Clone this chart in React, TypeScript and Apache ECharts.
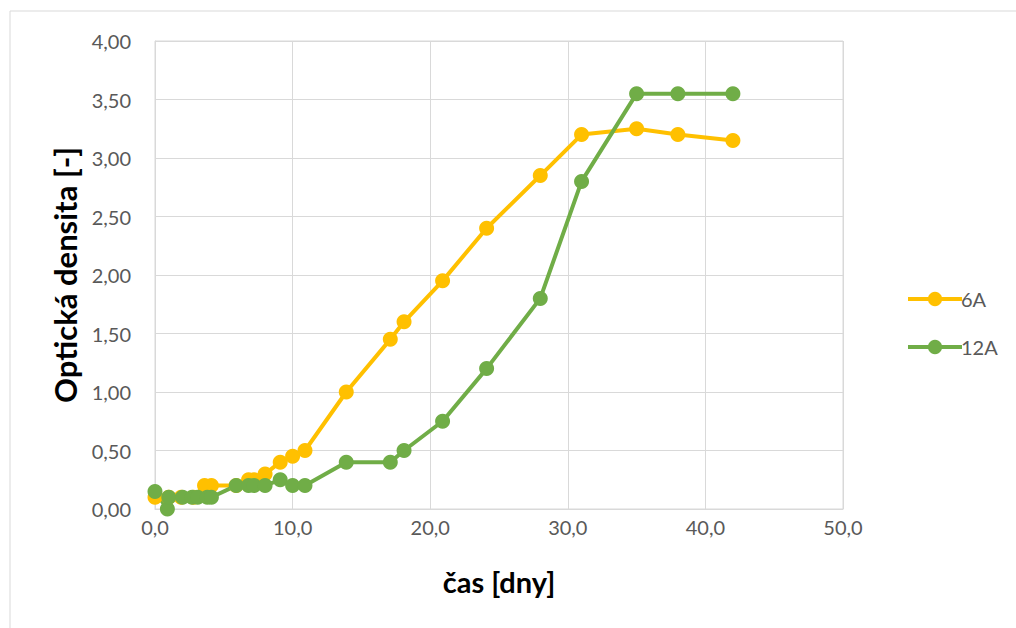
import React, { useEffect, useRef } from "react";
import * as echarts from "echarts";

// Days of measurement and optical density for sample 6A
const days6A = [0, 1.0, 1.9, 2.8, 3.6, 4.1, 5.9, 6.8, 7.2, 8.0, 9.1, 10.0, 10.9, 13.9, 17.1, 18.1, 20.9, 24.1, 28.0, 31.0, 35.0, 38.0, 42.0];
const od6A = [0.1, 0.1, 0.1, 0.1, 0.2, 0.2, 0.2, 0.25, 0.25, 0.3, 0.4, 0.45, 0.5, 1.0, 1.45, 1.6, 1.95, 2.4, 2.85, 3.2, 3.25, 3.2, 3.15];

// Days of measurement and optical density for sample 12A
const days12A = [0, 0.9, 1.0, 2.0, 2.7, 3.1, 3.8, 4.1, 5.9, 6.8, 7.2, 8.0, 9.1, 10.0, 10.9, 13.9, 17.1, 18.1, 20.9, 24.1, 28.0, 31.0, 35.0, 38.0, 42.0];
const od12A = [0.15, 0.0, 0.1, 0.1, 0.1, 0.1, 0.1, 0.1, 0.2, 0.2, 0.2, 0.2, 0.25, 0.2, 0.2, 0.4, 0.4, 0.5, 0.75, 1.2, 1.8, 2.8, 3.55, 3.55, 3.55];

const seriesNames = ["6A", "12A"];
const xTitle = "čas [dny]";
const yTitle = "Optická densita [-]";

const pair = (xs: number[], ys: number[]) => xs.map((x, i) => [x, ys[i]]);

export default function App() {
  const ref = useRef<HTMLDivElement>(null);

  useEffect(() => {
    if (!ref.current) return;
    const chart = echarts.init(ref.current, null, { renderer: "svg" });
    const font = "Lato, 'Open Sans', sans-serif";
    const gray = "#595959";
    chart.setOption({
      animation: false,
      backgroundColor: "#ffffff",
      graphic: [
        {
          type: "rect",
          shape: { x: 10, y: 11, width: 1030, height: 640 },
          style: { fill: "none", stroke: "#d9d9d9", lineWidth: 1 },
          silent: true,
        },
      ],
      grid: {
        left: 155,
        top: 41,
        width: 688,
        height: 468,
        show: true,
        borderColor: "#d9d9d9",
        borderWidth: 1,
      },
      legend: {
        orient: "vertical",
        left: 901,
        top: 284,
        itemWidth: 54,
        itemHeight: 18,
        itemGap: 28,
        lineStyle: { width: 4 },
        textStyle: { fontFamily: font, fontSize: 20, color: gray, padding: [0, 0, 0, -6] },
        data: seriesNames,
      },
      xAxis: {
        type: "value",
        min: 0,
        max: 50,
        interval: 10,
        name: xTitle,
        nameLocation: "middle",
        nameGap: 58,
        nameTextStyle: { fontFamily: font, fontSize: 29, fontWeight: "bold", color: "#000" },
        axisLine: { show: true, lineStyle: { color: "#d9d9d9" } },
        axisTick: { show: false },
        splitLine: { show: true, lineStyle: { color: "#d9d9d9", width: 1 } },
        axisLabel: {
          margin: 8,
          fontFamily: font,
          fontSize: 20,
          color: gray,
          formatter: (v: number) => v.toFixed(1).replace(".", ","),
        },
      },
      yAxis: {
        type: "value",
        min: 0,
        max: 4,
        interval: 0.5,
        name: yTitle,
        nameLocation: "middle",
        nameGap: 74,
        nameTextStyle: { fontFamily: font, fontSize: 31, fontWeight: "bold", color: "#000" },
        axisLine: { show: true, lineStyle: { color: "#d9d9d9" } },
        axisTick: { show: false },
        splitLine: { show: true, lineStyle: { color: "#d9d9d9", width: 1 } },
        axisLabel: {
          margin: 24,
          fontFamily: font,
          fontSize: 20,
          color: gray,
          formatter: (v: number) => v.toFixed(2).replace(".", ","),
        },
      },
      series: [
        {
          name: seriesNames[0],
          type: "line",
          data: pair(days6A, od6A),
          color: "#FFC000",
          lineStyle: { width: 4 },
          symbol: "circle",
          symbolSize: 15,
        },
        {
          name: seriesNames[1],
          type: "line",
          data: pair(days12A, od12A),
          color: "#70AD47",
          lineStyle: { width: 4 },
          symbol: "circle",
          symbolSize: 15,
        },
      ],
    });
    return () => chart.dispose();
  }, []);

  return (
    <div
      ref={ref}
      style={{ position: "fixed", left: 0, top: 0, width: 1016, height: 628, background: "#fff" }}
    />
  );
}
